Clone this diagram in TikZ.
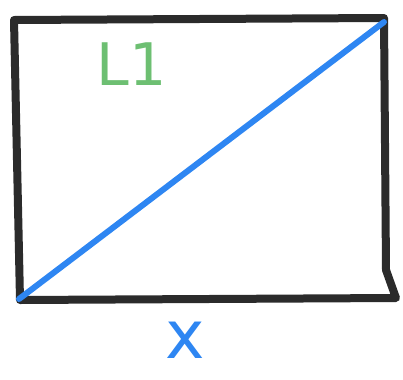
\documentclass[tikz,border=0pt]{standalone}
\usepackage{fontspec}
\setmainfont{DejaVu Sans}
\definecolor{inkblack}{HTML}{2B2B2B}
\definecolor{inkblue}{HTML}{2E86F2}
\definecolor{inkgreen}{HTML}{6DBF72}
\tikzset{
  frame/.style={draw=inkblack, line width=6pt, line cap=round, line join=round},
  diag/.style={draw=inkblue, line width=4.5pt, line cap=round},
  lbl/.style={inner sep=0pt, font=\fontsize{44}{44}\selectfont},
}
\begin{document}
\begin{tikzpicture}[x=0.75pt, y=-0.75pt]
  \useasboundingbox (0,0) rectangle (403,379);
  \coordinate (tl) at (14,20);
  \coordinate (tr) at (384,18);
  \coordinate (br) at (396,298);
  \coordinate (bl) at (20,300);
  \draw[frame] (bl) -- (tl) -- (tr) -- (386,270) -- (br) -- (bl);
  \coordinate (ds) at (19,299);
  \coordinate (de) at (384,22);
  \draw[diag] (ds) -- (de);
  \node[lbl, text=inkgreen] (l1) at (132,64) {L1};
  \node[lbl, text=inkblue, font=\fontsize{50}{50}\selectfont] (xl) at (185,340) {x};
\end{tikzpicture}
\end{document}
